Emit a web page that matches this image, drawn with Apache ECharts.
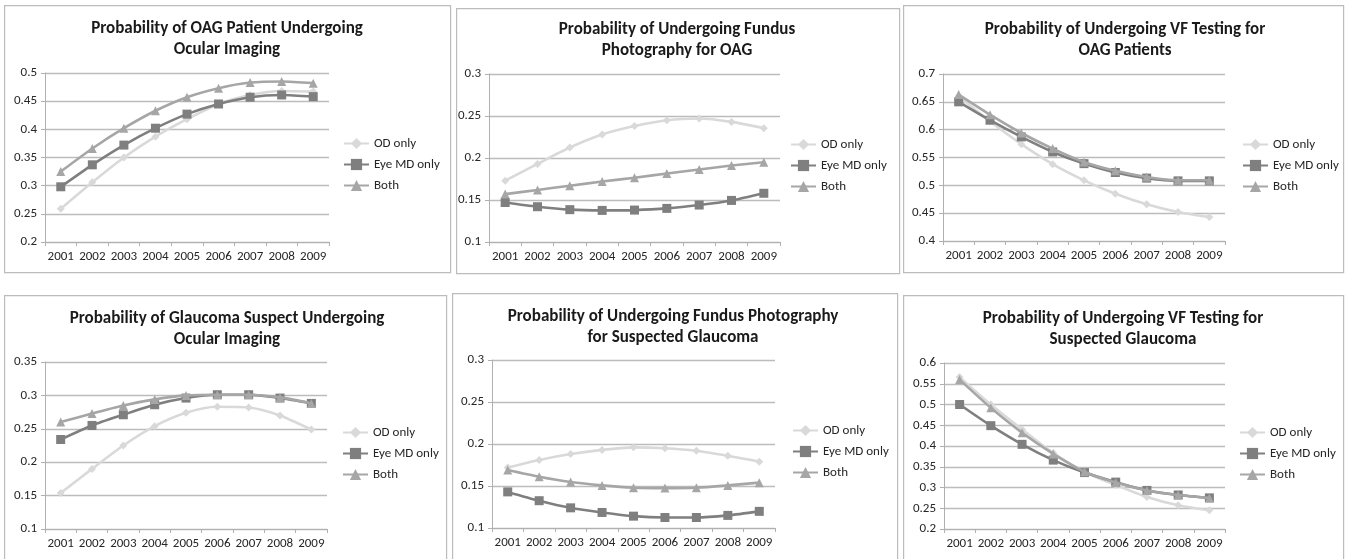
<!DOCTYPE html>
<html>
<head>
<meta charset="utf-8">
<script src="https://cdn.jsdelivr.net/npm/echarts@6/dist/echarts.min.js"></script>
<style>
html,body{margin:0;padding:0;background:#fff;}
#c{width:1351px;height:559px;}
</style>
</head>
<body>
<div id="c"></div>
<script>
const years = ['2001','2002','2003','2004','2005','2006','2007','2008','2009'];
const seriesNames = ['OD only','Eye MD only','Both'];

const titles = [
  'Probability of OAG Patient Undergoing\nOcular Imaging',
  'Probability of Undergoing Fundus\nPhotography for OAG',
  'Probability of Undergoing VF Testing for\nOAG Patients',
  'Probability of Glaucoma Suspect Undergoing\nOcular Imaging',
  'Probability of Undergoing Fundus Photography\nfor Suspected Glaucoma',
  'Probability of Undergoing VF Testing for\nSuspected Glaucoma'
];

const yMins = [0.2, 0.1, 0.4, 0.1, 0.1, 0.2];
const yMaxs = [0.5, 0.3, 0.7, 0.35, 0.3, 0.6];

// Panel 1: OAG ocular imaging
const p1_od   = [0.259, 0.306, 0.350, 0.387, 0.418, 0.445, 0.461, 0.468, 0.467];
const p1_eye  = [0.298, 0.337, 0.372, 0.402, 0.427, 0.445, 0.457, 0.461, 0.458];
const p1_both = [0.325, 0.366, 0.402, 0.433, 0.457, 0.473, 0.483, 0.485, 0.482];
// Panel 2: fundus photography OAG
const p2_od   = [0.173, 0.193, 0.2125, 0.228, 0.238, 0.245, 0.247, 0.243, 0.2355];
const p2_eye  = [0.147, 0.142, 0.1385, 0.1376, 0.138, 0.140, 0.144, 0.1495, 0.158];
const p2_both = [0.157, 0.162, 0.167, 0.172, 0.1765, 0.1815, 0.1863, 0.191, 0.195];
// Panel 3: VF testing OAG
const p3_od   = [0.660, 0.615, 0.574, 0.538, 0.509, 0.485, 0.466, 0.452, 0.443];
const p3_eye  = [0.650, 0.617, 0.587, 0.560, 0.539, 0.523, 0.513, 0.508, 0.508];
const p3_both = [0.663, 0.627, 0.594, 0.566, 0.542, 0.526, 0.515, 0.509, 0.509];
// Panel 4: glaucoma suspect ocular imaging
const p4_od   = [0.154, 0.190, 0.225, 0.254, 0.274, 0.283, 0.282, 0.270, 0.249];
const p4_eye  = [0.234, 0.255, 0.271, 0.286, 0.296, 0.301, 0.301, 0.296, 0.288];
const p4_both = [0.260, 0.273, 0.285, 0.294, 0.300, 0.301, 0.301, 0.297, 0.288];
// Panel 5: fundus photography suspected glaucoma
const p5_od   = [0.172, 0.181, 0.188, 0.193, 0.196, 0.195, 0.192, 0.186, 0.179];
const p5_eye  = [0.143, 0.1325, 0.124, 0.1185, 0.1141, 0.1125, 0.1125, 0.115, 0.1198];
const p5_both = [0.169, 0.161, 0.1547, 0.1507, 0.148, 0.1475, 0.148, 0.1507, 0.154];
// Panel 6: VF testing suspected glaucoma
const p6_od   = [0.566, 0.500, 0.440, 0.383, 0.338, 0.306, 0.277, 0.257, 0.245];
const p6_eye  = [0.500, 0.449, 0.404, 0.366, 0.336, 0.313, 0.293, 0.282, 0.275];
const p6_both = [0.560, 0.492, 0.432, 0.381, 0.338, 0.312, 0.293, 0.282, 0.275];

const panelData = [
  [p1_od, p1_eye, p1_both],
  [p2_od, p2_eye, p2_both],
  [p3_od, p3_eye, p3_both],
  [p4_od, p4_eye, p4_both],
  [p5_od, p5_eye, p5_both],
  [p6_od, p6_eye, p6_both]
];

// layout (pixels)
const boxes = [
  [4, 5, 446, 267], [456, 8, 443, 265], [903, 5, 440, 267],
  [4, 295, 442, 270], [452, 293, 445, 272], [903, 295, 440, 270]
];
const grids = [
  [45, 73, 284, 169], [489, 74, 291, 168], [943, 74, 282, 167],
  [45, 362, 282, 167], [492, 360, 283, 168], [944, 363, 281, 166]
];
const titleCenters = [[227, 18.5], [677, 19.5], [1125, 19.5], [227, 308.5], [673, 306], [1123, 308.5]];
// legend: [text start x, first item center y]
const legendPos = [[373, 144], [820, 145], [1272, 145], [372, 433], [822, 431], [1269, 433]];

const FONT = 'Carlito, Lato, "Open Sans", sans-serif';
const colors = ['#d9d9d9', '#7f7f7f', '#a6a6a6'];
const symbols = ['diamond', 'rect', 'triangle'];
const symSizes = [8, 9, 9];

const option = {
  animation: false,
  backgroundColor: '#fff',
  textStyle: {fontFamily: FONT},
  title: [], legend: [], grid: [], xAxis: [], yAxis: [], series: [],
  graphic: []
};

for (let i = 0; i < 6; i++) {
  const b = boxes[i];
  option.graphic.push({
    type: 'rect', left: b[0], top: b[1], silent: true, z: -1,
    shape: {x: 0, y: 0, width: b[2], height: b[3]},
    style: {fill: '#fff', stroke: '#bcbcbc', lineWidth: 1.2}
  });
  const g = grids[i];
  option.grid.push({left: g[0], top: g[1], width: g[2], height: g[3], containLabel: false});
  option.title.push({
    text: titles[i], left: titleCenters[i][0], top: titleCenters[i][1], textAlign: 'center',
    padding: 0,
    textStyle: {fontFamily: FONT, fontWeight: 'bold', fontSize: 17, color: '#1a1a1a', lineHeight: 21}
  });
  option.legend.push({
    data: seriesNames, orient: 'vertical', left: legendPos[i][0] - 30, top: legendPos[i][1] - 7,
    itemWidth: 25, itemHeight: 14, itemGap: 8, padding: 0,
    textStyle: {fontFamily: FONT, fontSize: 13, color: '#262626'}
  });
  option.xAxis.push({
    type: 'category', gridIndex: i, data: years, boundaryGap: true,
    axisLine: {lineStyle: {color: '#b0b0b0', width: 1}},
    axisTick: {show: true, length: 4, lineStyle: {color: '#b0b0b0'}},
    axisLabel: {fontFamily: FONT, fontSize: 13, color: '#262626', margin: 8, interval: 0}
  });
  option.yAxis.push({
    type: 'value', gridIndex: i, min: yMins[i], max: yMaxs[i], interval: 0.05,
    axisLine: {show: true, lineStyle: {color: '#b0b0b0', width: 1}},
    axisTick: {show: true, length: 4, lineStyle: {color: '#b0b0b0'}},
    splitLine: {lineStyle: {color: '#bcbcbc', width: 1.3}},
    axisLabel: {fontFamily: FONT, fontSize: 13, color: '#262626', margin: 8,
      formatter: v => String(parseFloat(v.toFixed(2)))}
  });
  for (let s = 0; s < 3; s++) {
    option.series.push({
      type: 'line', name: seriesNames[s], xAxisIndex: i, yAxisIndex: i,
      data: panelData[i][s], smooth: 0.25,
      symbol: symbols[s], symbolSize: symSizes[s],
      itemStyle: {color: colors[s]},
      lineStyle: {color: colors[s], width: 2.6},
      z: 2 + s
    });
  }
}

const chart = echarts.init(document.getElementById('c'), null, {renderer: 'canvas'});
chart.setOption(option);
</script>
</body>
</html>
